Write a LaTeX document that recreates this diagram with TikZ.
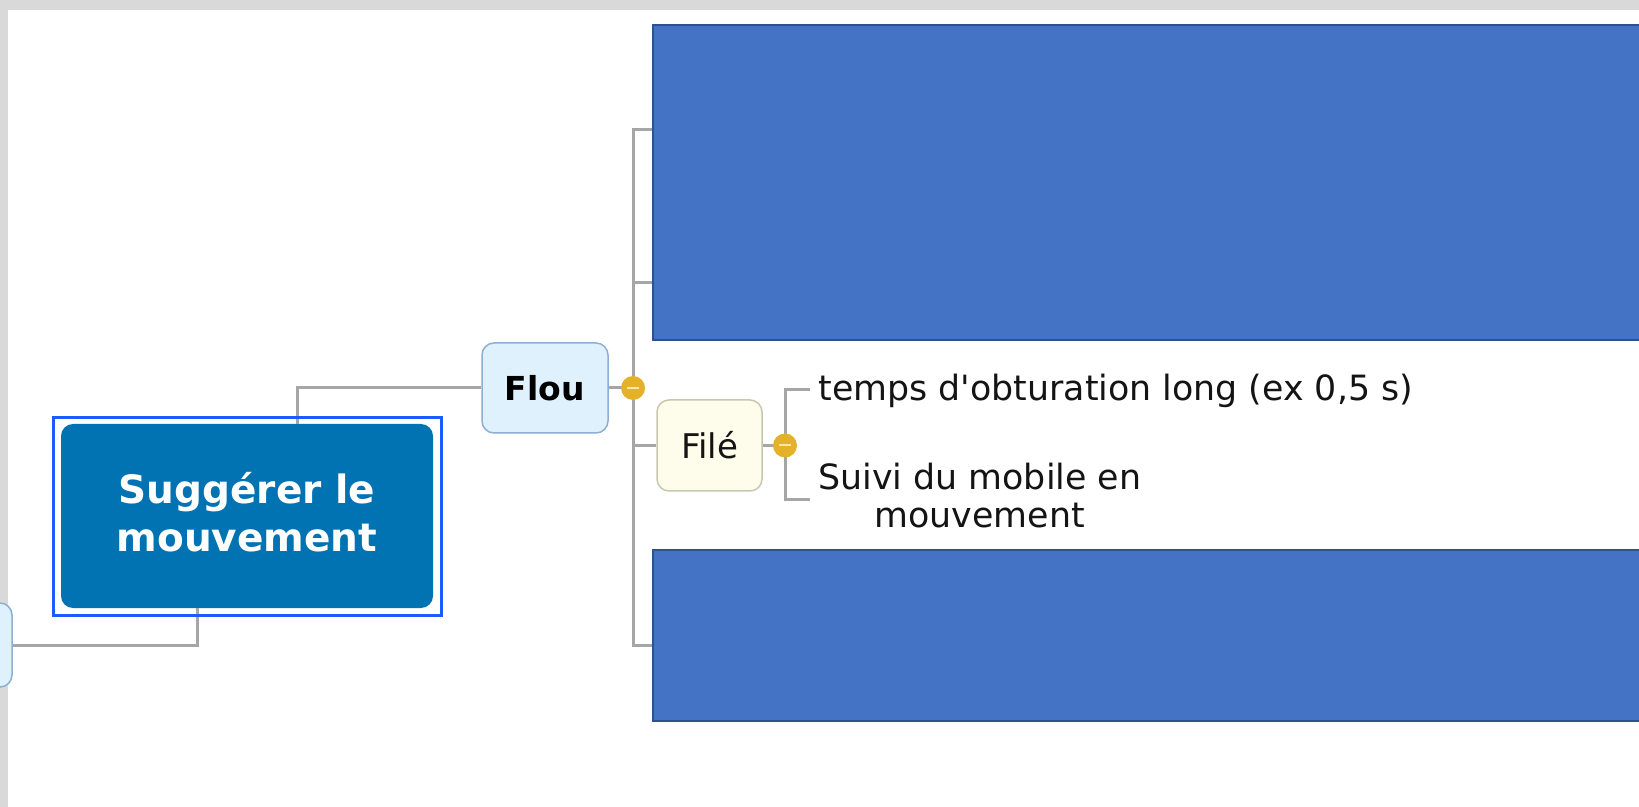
\documentclass[tikz,border=0pt]{standalone}
\usepackage{fontspec}
\setmainfont{DejaVu Sans}
\usetikzlibrary{calc}
\definecolor{rootblue}{RGB}{1,115,178}
\definecolor{framec}{RGB}{30,90,255}
\definecolor{floufill}{RGB}{222,241,252}
\definecolor{flouedge}{RGB}{140,175,212}
\definecolor{filefill}{RGB}{254,252,235}
\definecolor{fileedge}{RGB}{200,200,176}
\definecolor{conncol}{RGB}{166,166,166}
\definecolor{gold}{RGB}{228,178,40}
\definecolor{minusc}{RGB}{250,232,170}
\definecolor{rectfill}{RGB}{68,114,196}
\definecolor{rectedge}{RGB}{47,82,143}
\definecolor{bggray}{RGB}{217,217,217}
\definecolor{txt}{RGB}{20,20,20}
\tikzset{
  conn/.style={draw=conncol, line width=1.5pt},
  rootbox/.style={fill=rootblue, rounded corners=6pt, minimum width=186pt, minimum height=92pt,
    text=white, font=\bfseries\fontsize{19.5}{24}\selectfont, align=center, inner sep=0pt, text depth=4.5pt},
  floubox/.style={fill=floufill, draw=flouedge, line width=0.75pt, rounded corners=6pt,
    minimum width=63pt, minimum height=45pt, text=black, font=\bfseries\fontsize{16.5}{20}\selectfont, inner sep=0pt},
  filebox/.style={fill=filefill, draw=fileedge, line width=0.75pt, rounded corners=6pt,
    minimum width=52.5pt, minimum height=45.5pt, text=txt, font=\fontsize{17}{20}\selectfont, inner sep=0pt},
  leaf/.style={font=\fontsize{17.4}{19}\selectfont, text=txt, inner xsep=4pt, inner ysep=2pt, anchor=west, align=center},
  toggle/.style={circle, fill=gold, minimum size=12pt, inner sep=0pt},
  bluerect/.style={rectangle, fill=rectfill, draw=rectedge, line width=1pt, inner sep=0pt},
  minusbar/.style={draw=minusc, line width=1pt},
}
\begin{document}
\begin{tikzpicture}[x=0.5pt,y=-0.5pt]
\useasboundingbox (0,0) rectangle (1639,807);
\fill[white] (0,0) rectangle (1639,807);
\fill[bggray] (0,0) rectangle (1639,10);
\fill[bggray] (0,0) rectangle (8,807);

% nodes
\node[rootbox] (root) at (247,516) {Suggérer le\\mouvement};
\node[floubox] (flou) at (545,388) {Flou};
\node[filebox] (file) at (709.5,445.5) {Filé};
\node[floubox, minimum width=52pt, minimum height=42pt] (left) at (-40,645) {};
\node[bluerect, minimum width=498.5pt, minimum height=157.5pt] (top) at (1151.5,182.5) {};
\node[bluerect, minimum width=498.5pt, minimum height=85.5pt] (bot) at (1151.5,635.5) {};
\node[leaf] (l1) at (810,391) {temps d\textquotesingle obturation long (ex 0,5 s)};
\node[leaf] (l2) at (810,496) {Suivi du mobile en\\mouvement};

\coordinate (c1) at (633,388);
\coordinate (c2) at (785,445.5);

% connectors
\draw[conn] ([xshift=25pt]root.north) |- (flou.west);
\draw[conn] ([xshift=-25pt]root.south) |- (left.east);
\draw[conn] (flou.east) -- (c1);
\draw[conn] (c1) |- ([yshift=26.25pt]top.west);
\draw[conn] (c1) |- ([yshift=-50.25pt]top.west);
\draw[conn] (c1) |- (file.west);
\draw[conn] (c1) |- ([yshift=-4.75pt]bot.west);
\draw[conn] (file.east) -- (c2);
\draw[conn] (c2) |- ([yshift=0.5pt]l1.west);
\draw[conn] (c2) |- ([yshift=-2pt]l2.west);

% toggles
\node[toggle] (tg1) at (c1) {};
\draw[minusbar] ([xshift=-3pt]tg1.center) -- ([xshift=3pt]tg1.center);
\node[toggle] (tg2) at (c2) {};
\draw[minusbar] ([xshift=-3pt]tg2.center) -- ([xshift=3pt]tg2.center);

% selection frame
\draw[framec, line width=1.5pt] (53.5,417.5) rectangle (441.5,615.5);
\end{tikzpicture}
\end{document}
